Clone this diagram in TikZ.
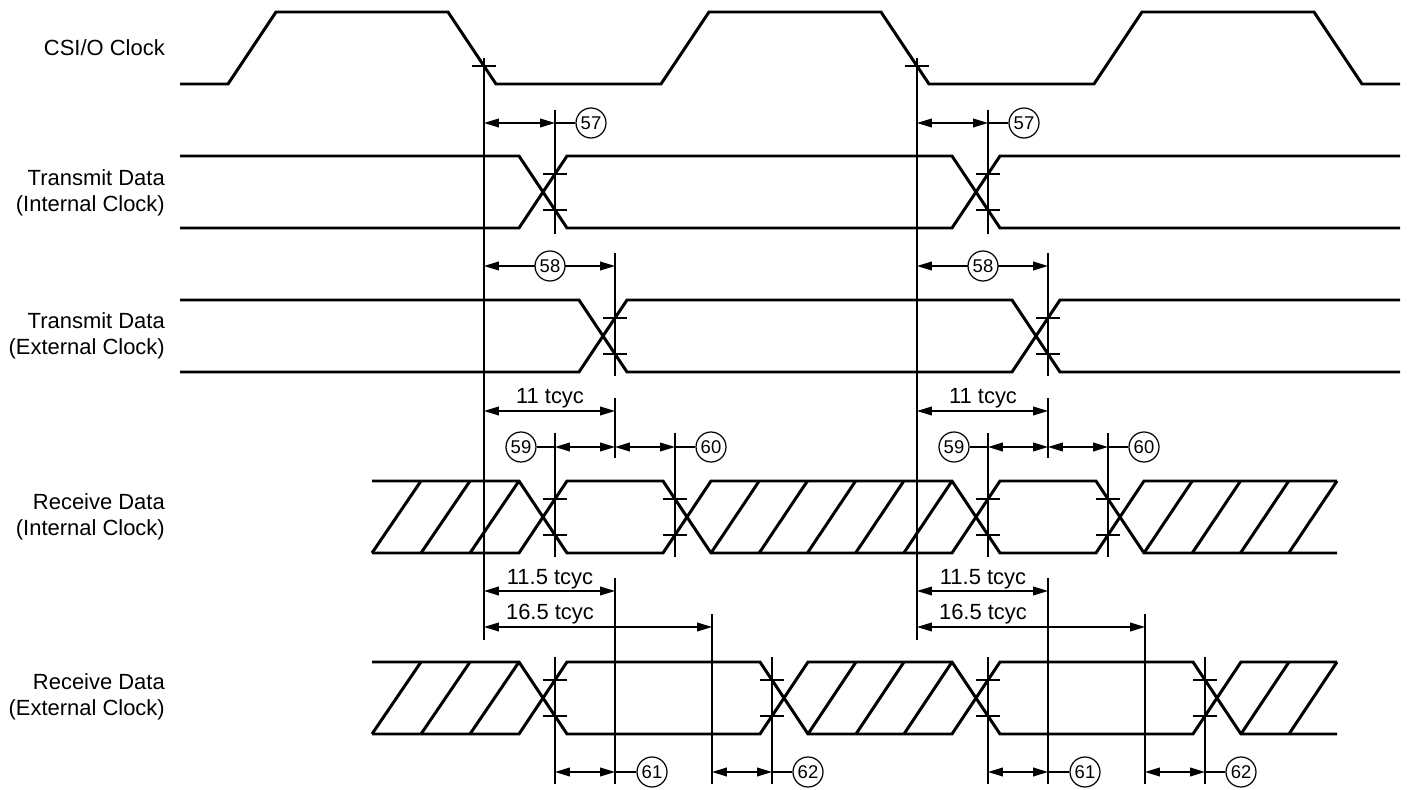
\documentclass[tikz,border=0pt]{standalone}
\usepackage{fontspec}
\setmainfont{Liberation Sans}
\usetikzlibrary{arrows.meta}
\tikzset{
  sig/.style={line width=1.7pt},
  guide/.style={line width=0.7pt},
  dim/.style={guide, <->, >={Triangle[length=8.5pt,width=5pt]}},
  num/.style={circle, draw, line width=0.7pt, fill=white, minimum size=0.6cm, inner sep=0pt, font=\fontsize{10.5}{12}\selectfont},
  lbl/.style={align=right, anchor=east, font=\fontsize{12.5}{15}\selectfont},
  dimtext/.style={anchor=base, font=\fontsize{12.5}{15}\selectfont}
}
\newcommand{\hmark}[2]{\draw[guide] ({#1-12},#2) -- ({#1+12},#2);}

\begin{document}
\begin{tikzpicture}[x=0.02cm, y=-0.02cm]
\useasboundingbox (0,0) rectangle (1421,790);

\node[lbl] (clk) at (171,48) {CSI/O Clock};
\node[lbl] (txi) at (171,193) {Transmit Data\\(Internal Clock)};
\node[lbl] (txe) at (171,336) {Transmit Data\\(External Clock)};
\node[lbl] (rxi) at (171,517) {Receive Data\\(Internal Clock)};
\node[lbl] (rxe) at (171,697) {Receive Data\\(External Clock)};

\draw[sig] (180,84) -- (228,84) -- (276,12) -- (448,12) -- (496,84) -- (661,84) -- (709,12) -- (881,12)
  -- (929,84) -- (1094,84) -- (1142,12) -- (1314,12) -- (1362,84) -- (1400,84);

\draw[sig] (180,156) -- (519,156) -- (567,228) -- (952,228) -- (1000,156) -- (1400,156);
\draw[sig] (180,228) -- (519,228) -- (567,156) -- (952,156) -- (1000,228) -- (1400,228);
\draw[sig] (180,300) -- (579,300) -- (627,372) -- (1012,372) -- (1060,300) -- (1400,300);
\draw[sig] (180,372) -- (579,372) -- (627,300) -- (1012,300) -- (1060,372) -- (1400,372);

\draw[sig] (372,481) -- (519,481) -- (567,553) -- (663,553) -- (711,481) -- (952,481) -- (1000,553)
  -- (1096,553) -- (1144,481) -- (1337,481);
\draw[sig] (372,553) -- (519,553) -- (567,481) -- (663,481) -- (711,553) -- (952,553) -- (1000,481)
  -- (1096,481) -- (1144,553) -- (1337,553);
\foreach \a/\b/\n in {372/519/3, 711/952/5, 1144/1337/4}
  \foreach \k in {1,...,\n}
    \draw[sig] ({\a+(\k-1)*(\b-\a)/\n},553) -- ({\a+\k*(\b-\a)/\n},481);

\draw[sig] (372,662) -- (519,662) -- (567,734) -- (760,734) -- (808,662) -- (952,662) -- (1000,734)
  -- (1193,734) -- (1241,662) -- (1337,662);
\draw[sig] (372,734) -- (519,734) -- (567,662) -- (760,662) -- (808,734) -- (952,734) -- (1000,662)
  -- (1193,662) -- (1241,734) -- (1337,734);
\foreach \a/\b/\n in {372/519/3, 808/952/3, 1241/1337/2}
  \foreach \k in {1,...,\n}
    \draw[sig] ({\a+(\k-1)*(\b-\a)/\n},734) -- ({\a+\k*(\b-\a)/\n},662);

% one set of timing marks per clock period
\foreach \s in {0,433} {
  \draw[guide] ({484+\s},58) -- ({484+\s},640);
  \hmark{484+\s}{66}
  % 57
  \draw[guide] ({555+\s},110) -- ({555+\s},234);
  \hmark{555+\s}{174} \hmark{555+\s}{210}
  \draw[dim] ({484+\s},123) -- ({555+\s},123);
  \node[num] (c57-\s) at ({591+\s},123) {57};
  \draw[guide] ({555+\s},123) -- (c57-\s);
  % 58
  \draw[guide] ({615+\s},253) -- ({615+\s},376);
  \hmark{615+\s}{318} \hmark{615+\s}{354}
  \draw[dim] ({484+\s},266) -- ({615+\s},266);
  \node[num] (c58-\s) at ({550+\s},266) {58};
  \draw[guide] ({615+\s},398) -- ({615+\s},458);
  \draw[dim] ({484+\s},411) -- ({615+\s},411);
  \node[dimtext] (t11-\s) at ({550+\s},404) {11 tcyc};
  % 59, 60
  \draw[guide] ({555+\s},433) -- ({555+\s},557);
  \draw[guide] ({675+\s},433) -- ({675+\s},557);
  \hmark{555+\s}{499} \hmark{555+\s}{535}
  \hmark{675+\s}{499} \hmark{675+\s}{535}
  \node[num] (c59-\s) at ({521+\s},447) {59};
  \node[num] (c60-\s) at ({711+\s},447) {60};
  \draw[guide] (c59-\s) -- ({555+\s},447);
  \draw[dim] ({555+\s},447) -- ({615+\s},447);
  \draw[dim] ({615+\s},447) -- ({675+\s},447);
  \draw[guide] ({675+\s},447) -- (c60-\s);
  % 61, 62
  \draw[guide] ({615+\s},578) -- ({615+\s},784);
  \draw[guide] ({712+\s},614) -- ({712+\s},784);
  \draw[dim] ({484+\s},591) -- ({615+\s},591);
  \node[dimtext] (t115-\s) at ({550+\s},584) {11.5 tcyc};
  \draw[dim] ({484+\s},627) -- ({712+\s},627);
  \node[dimtext] (t165-\s) at ({550+\s},620) {16.5 tcyc};
  \draw[guide] ({555+\s},657) -- ({555+\s},784);
  \draw[guide] ({772+\s},657) -- ({772+\s},784);
  \hmark{555+\s}{680} \hmark{555+\s}{716}
  \hmark{772+\s}{680} \hmark{772+\s}{716}
  \draw[dim] ({555+\s},772) -- ({615+\s},772);
  \draw[dim] ({712+\s},772) -- ({772+\s},772);
  \node[num] (c61-\s) at ({652+\s},772) {61};
  \node[num] (c62-\s) at ({808+\s},772) {62};
  \draw[guide] ({615+\s},772) -- (c61-\s);
  \draw[guide] ({772+\s},772) -- (c62-\s);
}
\end{tikzpicture}
\end{document}
